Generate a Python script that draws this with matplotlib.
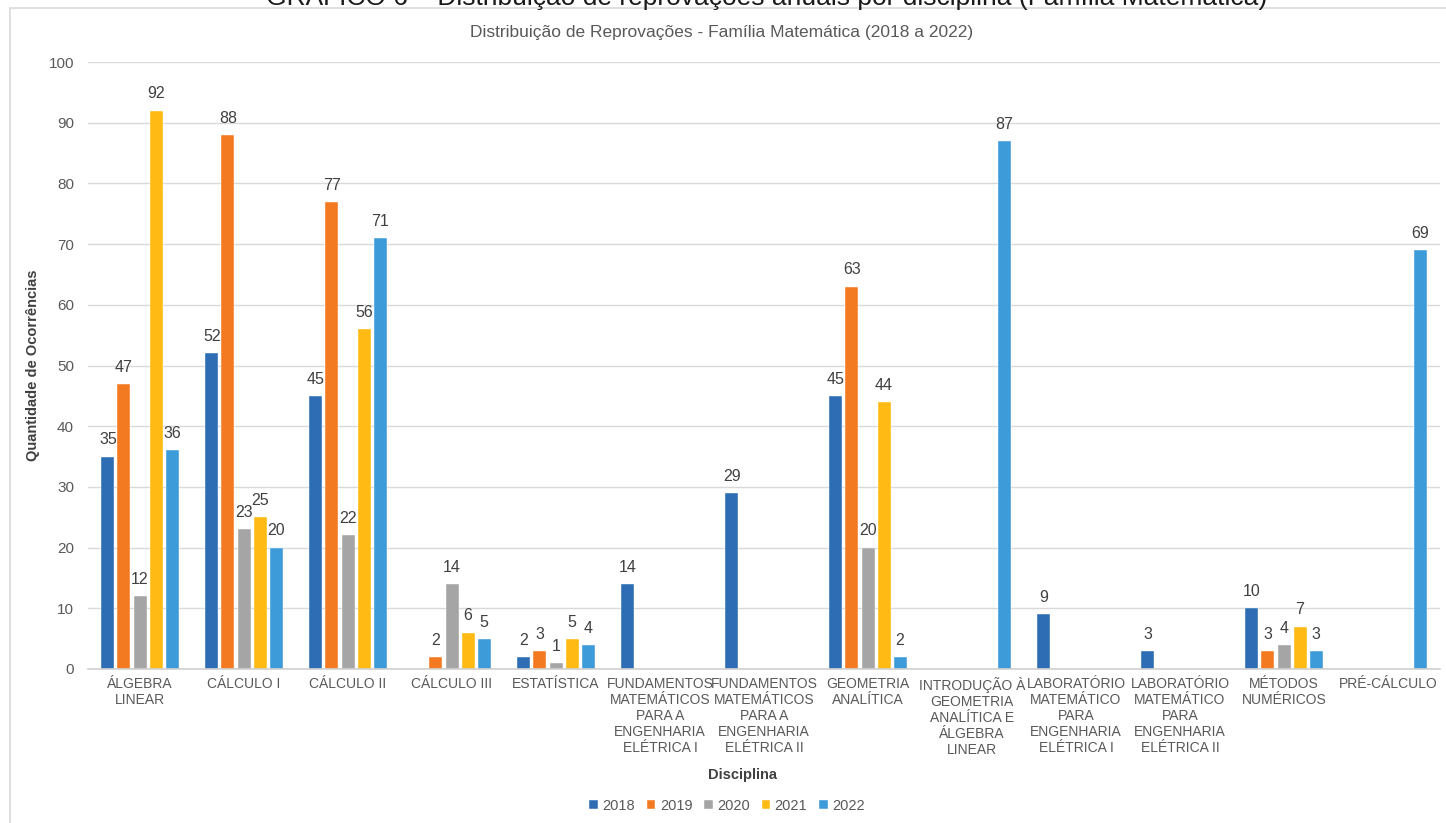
import numpy as np
import matplotlib
matplotlib.use('Agg')
import matplotlib.pyplot as plt
from matplotlib.patches import Rectangle

plt.rcParams['font.family'] = ['Liberation Sans', 'DejaVu Sans']

# dados
disciplinas = ['ÁLGEBRA\nLINEAR', 'CÁLCULO I', 'CÁLCULO II', 'CÁLCULO III', 'ESTATÍSTICA',
               'FUNDAMENTOS\nMATEMÁTICOS\nPARA A\nENGENHARIA\nELÉTRICA I',
               'FUNDAMENTOS\nMATEMÁTICOS\nPARA A\nENGENHARIA\nELÉTRICA II',
               'GEOMETRIA\nANALÍTICA',
               'INTRODUÇÃO À\nGEOMETRIA\nANALÍTICA E\nÁLGEBRA\nLINEAR',
               'LABORATÓRIO\nMATEMÁTICO\nPARA\nENGENHARIA\nELÉTRICA I',
               'LABORATÓRIO\nMATEMÁTICO\nPARA\nENGENHARIA\nELÉTRICA II',
               'MÉTODOS\nNUMÉRICOS', 'PRÉ-CÁLCULO']
anos = ['2018', '2019', '2020', '2021', '2022']
n = np.nan
v2018 = [35, 52, 45, n, 2, 14, 29, 45, n, 9, 3, 10, n]
v2019 = [47, 88, 77, 2, 3, n, n, 63, n, n, n, 3, n]
v2020 = [12, 23, 22, 14, 1, n, n, 20, n, n, n, 4, n]
v2021 = [92, 25, 56, 6, 5, n, n, 44, n, n, n, 7, n]
v2022 = [36, 20, 71, 5, 4, n, n, 2, 87, n, n, 3, 69]
series = [v2018, v2019, v2020, v2021, v2022]
cores = ['#2E6DB4', '#F47A22', '#A5A5A5', '#FFBA14', '#3E9BD9']

fig = plt.figure(figsize=(14.46, 8.23), dpi=100)
W, H = 1446, 823
ax = fig.add_axes([88 / W, 1 - 669 / H, (1440 - 88) / W, (669 - 62) / H])

x = np.arange(len(disciplinas))
passo = 0.154
larg = 0.125
for i, (vals, c, ano) in enumerate(zip(series, cores, anos)):
    pos = x + (i - 2) * passo
    ax.bar(pos, vals, larg, color=c, label=ano, edgecolor='white', linewidth=0.3)
    for p, v in zip(pos, vals):
        if not np.isnan(v):
            ax.text(p, v + 1.5, f'{int(v)}', ha='center', va='bottom',
                    fontsize=11.5, color='#404040')

ax.set_xlim(-0.5, len(disciplinas) - 0.5)
ax.set_ylim(0, 100)
ax.set_yticks(range(0, 101, 10))
ax.grid(axis='y', color='#D9D9D9', linewidth=1)
ax.set_axisbelow(True)
for s in ['top', 'right', 'left']:
    ax.spines[s].set_visible(False)
ax.spines['bottom'].set_color('#D0D0D0')
ax.spines['bottom'].set_linewidth(1.2)
ax.tick_params(axis='both', length=0, colors='#595959')
ax.tick_params(axis='y', pad=10, labelsize=11)
ax.tick_params(axis='x', pad=6, labelsize=10)
ax.set_xticks(x)
ax.set_xticklabels(disciplinas, linespacing=1.18)

ax.set_ylabel('Quantidade de Ocorrências', fontsize=10.5, fontweight='bold',
              color='#404040')
ax.yaxis.set_label_coords((40 - 88) / (1440 - 88), 0.5)
fig.text(743 / W, 1 - 775 / H, 'Disciplina', ha='center', va='center',
         fontsize=10.5, fontweight='bold', color='#404040')

fig.legend(loc='center', bbox_to_anchor=(727 / W, 1 - 806 / H), ncol=5,
           frameon=False, fontsize=10.5, handlelength=0.6, handleheight=0.6,
           handletextpad=0.3, columnspacing=0.8, labelcolor='#595959')

fig.text(722 / W, 1 - 32 / H,
         'Distribuição de Reprovações - Família Matemática (2018 a 2022)',
         ha='center', va='center', fontsize=12.5, color='#595959')
fig.text(767 / W, 1 - 5 / H,
         'GRÁFICO 6 – Distribuição de reprovações anuais por disciplina (Família Matemática)',
         ha='center', va='baseline', fontsize=19, color='#1A1A1A')

# moldura do gráfico
fig.patches.append(Rectangle((10 / W, -0.1), 1.2, 1 - 8 / H + 0.1, transform=fig.transFigure,
                             fill=False, edgecolor='#D9D9D9', linewidth=1.2))

fig.savefig('out.png', dpi=100)
